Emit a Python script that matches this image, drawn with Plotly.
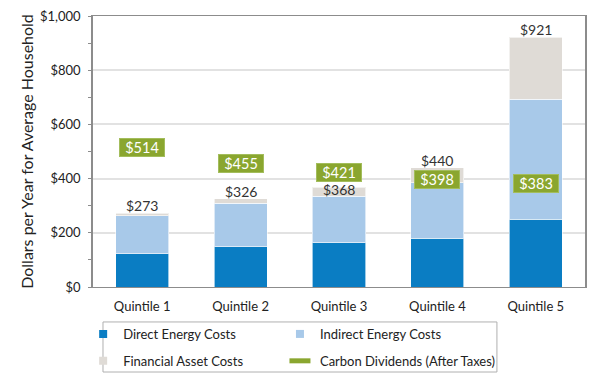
import plotly.graph_objects as go

categories = ["Quintile 1", "Quintile 2", "Quintile 3", "Quintile 4", "Quintile 5"]
direct = [122, 149, 163, 180, 250]
indirect = [141, 160, 172, 205, 442]
financial = [10, 17, 33, 55, 229]
totals = [273, 326, 368, 440, 921]
dividends = [514, 455, 421, 398, 383]
y_ticks = [0, 200, 400, 600, 800, 1000]
y_tick_labels = ["$" + f"{v:,}" for v in y_ticks]

C_DIRECT = "#0a7dc3"
C_INDIRECT = "#a8c9e9"
C_FIN = "#dfdbd6"
C_GREEN = "#8aa62f"
FONT = "Lato"

fig = go.Figure()
bar_line = dict(color="rgba(255,255,255,0.6)", width=1)
fig.add_bar(x=categories, y=direct, name="Direct Energy Costs", marker=dict(color=C_DIRECT, line=bar_line), showlegend=False)
fig.add_bar(x=categories, y=indirect, name="Indirect Energy Costs", marker=dict(color=C_INDIRECT, line=bar_line), showlegend=False)
fig.add_bar(x=categories, y=financial, name="Financial Asset Costs", marker=dict(color=C_FIN, line=bar_line), showlegend=False)

# legend entries (two columns, each its own legend)
fig.add_scatter(x=[None], y=[None], mode="markers", name="Direct Energy Costs", legend="legend",
                legendgroup="a", marker=dict(symbol="square", size=8, color=C_DIRECT))
fig.add_scatter(x=[None], y=[None], mode="markers", name="Financial Asset Costs", legend="legend",
                legendgroup="b", marker=dict(symbol="square", size=8, color=C_FIN))
fig.add_scatter(x=[None], y=[None], mode="markers", name="Indirect Energy Costs", legend="legend2",
                legendgroup="c", marker=dict(symbol="square", size=8, color=C_INDIRECT))
fig.add_scatter(x=[None], y=[None], mode="markers", name="Carbon Dividends (After Taxes)", legend="legend2",
                legendgroup="d", marker=dict(symbol="line-ew", size=15, line=dict(color=C_GREEN, width=5)))

for c, t, d in zip(categories, totals, dividends):
    # total label sits just above the bar unless the dividend box would cover it
    crowded = 0 < d - t < 70
    fig.add_annotation(x=c, y=t, text=f"${t:,}", showarrow=False,
                       yanchor="middle" if crowded else "bottom",
                       yshift=-2 if crowded else -3,
                       font=dict(family=FONT, size=14, color="#333333"))
for c, d in zip(categories, dividends):
    fig.add_annotation(x=c, y=d, text=f"${d:,}", showarrow=False, yanchor="middle",
                       font=dict(family=FONT, size=14.5, color="white"),
                       bgcolor=C_GREEN, bordercolor="#a3bd5c", borderwidth=1,
                       width=40, height=13, borderpad=2)

# legend frame
fig.add_shape(type="rect", xref="paper", yref="paper", x0=0.0203, x1=0.821, y0=-0.3137, y1=-0.129,
              line=dict(color="#b0b0b0", width=1), fillcolor="rgba(0,0,0,0)", layer="above")

leg_common = dict(orientation="v", xanchor="left", yanchor="top", y=-0.118,
                  borderwidth=0, bgcolor="rgba(0,0,0,0)", traceorder="grouped",
                  font=dict(family=FONT, size=13, color="#222222"), itemwidth=30,
                  tracegroupgap=7)

fig.update_layout(
    barmode="stack", bargap=0.46,
    width=592, height=380,
    margin=dict(l=85, r=15, t=8, b=101),
    plot_bgcolor="white", paper_bgcolor="white",
    font=dict(family=FONT, size=13, color="#333333"),
    legend=dict(x=-0.02, **leg_common),
    legend2=dict(x=0.38, **leg_common),
)
fig.update_xaxes(showline=True, linecolor="#8c8c8c", linewidth=1, mirror=True,
                 ticks="", ticklabelstandoff=7, tickfont=dict(size=13, color="#222222"),
                 automargin=False)
fig.update_yaxes(range=[0, 1000], tickvals=y_ticks, ticktext=y_tick_labels,
                 showline=True, linecolor="#8c8c8c", linewidth=1.5, mirror=True,
                 ticks="outside", ticklen=3, tickcolor="#8c8c8c", ticklabelstandoff=5,
                 ticklabeloverflow="allow",
                 minor=dict(dtick=100, ticks="outside", ticklen=3, tickcolor="#8c8c8c", showgrid=False),
                 gridcolor="#e2e2e2", gridwidth=1.5, zeroline=False,
                 tickfont=dict(size=13, color="#222222"), automargin=False,
                 title=dict(text="Dollars per Year for Average Household",
                            font=dict(size=16, color="#222222"), standoff=2))

fig.write_html("out.html")
